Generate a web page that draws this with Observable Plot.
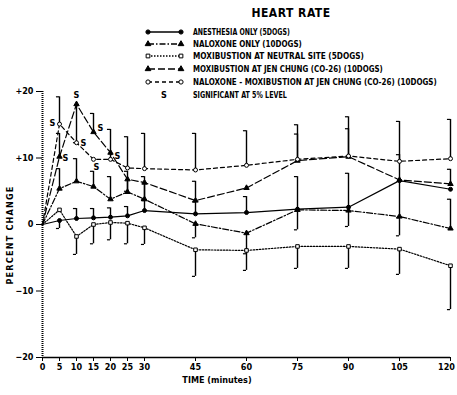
<!DOCTYPE html>
<html><head><meta charset="utf-8">
<script src="https://cdn.jsdelivr.net/npm/d3@7"></script>
<script src="https://cdn.jsdelivr.net/npm/@observablehq/plot@0.6"></script>
<style>
body{margin:0;background:#fff;}
#wrap{position:relative;width:457px;height:395px;overflow:hidden;font-family:"Liberation Sans Narrow","DejaVu Sans Condensed","Roboto",sans-serif;font-weight:bold;color:#000;}
#wrap svg{display:block;}
.ov{position:absolute;white-space:nowrap;font-weight:bold;}
</style></head><body><div id="wrap"></div>
<script>
// ---- data (percent change of heart rate) ----
const times = [0, 5, 10, 15, 20, 25, 30, 45, 60, 75, 90, 105, 120];
const xTickLabels = [0, 5, 10, 15, 20, 25, 30, 45, 60, 75, 90, 105, 120];
const yTickLabels = [-20, -10, 0, 10, 20];

const anesthesia = [0, 0.6, 0.9, 1.0, 1.1, 1.3, 2.1, 1.6, 1.8, 2.3, 2.6, 6.6, 5.3];
const naloxone   = [0, 5.4, 6.5, 5.7, 3.8, 4.9, 3.8, 0.1, -1.3, 2.2, 2.1, 1.2, -0.6];
const neutral    = [0, 2.2, -1.8, 0.0, 0.3, 0.2, -0.5, -3.8, -3.9, -3.3, -3.3, -3.7, -6.2];
const jenChung   = [0, 10.2, 18.1, 13.9, 10.8, 6.8, 6.3, 3.6, 5.5, 9.6, 10.2, 6.7, 6.1];
const naloxMox   = [0, 15.1, 12.3, 9.8, 9.8, 8.5, 8.4, 8.2, 8.9, 9.8, 10.3, 9.5, 9.9];

// error-bar tips (value at the end of each bar; null = none)
const anesthesiaEnd = [null, -0.6, 2.4, 2.4, 2.5, 2.7, 3.6, 3.4, 4.2, 7.2, 7.7, 1.0, null];
const naloxoneEnd   = [null, 8.4, 9.9, 8.0, 7.2, 8.0, 7.2, -2.0, -4.4, -0.8, -0.3, -1.7, 3.8];
const neutralEnd    = [null, null, -4.5, -2.9, -2.3, -2.9, -3.0, -7.8, -6.9, -6.6, -6.6, -7.5, -12.8];
const jenChungEnd   = [null, 13.7, 12.3, 16.7, null, 5.0, 3.8, 6.5, null, 13.6, 14.4, 10.5, 8.3];
const naloxMoxEnd   = [null, 19.2, null, null, 14.3, 13.2, 13.7, 13.7, 14.1, 15.0, 16.2, 15.5, 15.8];

const seriesNames = [
  "ANESTHESIA ONLY (5DOGS)",
  "NALOXONE ONLY (10DOGS)",
  "MOXIBUSTION AT NEUTRAL SITE (5DOGS)",
  "MOXIBUSTION AT JEN CHUNG (CO-26) (10DOGS)",
  "NALOXONE - MOXIBUSTION AT JEN CHUNG (CO-26) (10DOGS)"
];
const sigText = "SIGNIFICANT AT 5% LEVEL";
// significance marks: series index, time
const sigSeries = [4, 4, 4, 4, 3, 3, 3];
const sigTimes  = [5, 10, 15, 20, 5, 10, 15];

// ---- styles ----
const styles = [
  {dash: null,        symbol: "circle",   fill: "black"},
  {dash: "6,2,1.5,2", symbol: "triangle", fill: "black"},
  {dash: "1.5,1.5",   symbol: "square",   fill: "white"},
  {dash: "7,3",       symbol: "triangle", fill: "black"},
  {dash: "4,3",       symbol: "circle",   fill: "white"}
];
const sigOffsets = [[-7,-1],[7,0],[3,8],[7,-3],[6,1],[0,-9],[7,-4]];
const legendWidths = [97, 109, 171, 190, 244];

const allVals = [anesthesia, naloxone, neutral, jenChung, naloxMox];
const allEnds = [anesthesiaEnd, naloxoneEnd, neutralEnd, jenChungEnd, naloxMoxEnd];
const data = allVals.flatMap((vals, s) => times.map((t, i) => ({s, t, v: vals[i], end: allEnds[s][i]})));
const sigData = sigSeries.map((s, k) => {
  const i = times.indexOf(sigTimes[k]);
  return {t: sigTimes[k], v: allVals[s][i], dx: sigOffsets[k][0], dy: sigOffsets[k][1]};
});

const font = `"Liberation Sans Narrow","DejaVu Sans Condensed",sans-serif`;
const fmtY = d => d > 0 ? "+" + d : d < 0 ? "\u2212" + Math.abs(d) : "0";
const lastTick = xTickLabels[xTickLabels.length - 1];

const marks = [
  Plot.axisX({ticks: xTickLabels, tickSize: 4, tickPadding: 2, label: null, tickFormat: d => d === lastTick ? "" : d, fontWeight: "bold"}),
  Plot.text([lastTick], {x: d => d, frameAnchor: "bottom", dy: 12, dx: -4, text: d => String(d), fontWeight: "bold"}),
  Plot.axisY({ticks: yTickLabels, tickSize: 6, tickPadding: 3, label: null, tickFormat: fmtY, fontWeight: "bold"}),
  Plot.ruleY([-20], {strokeWidth: 1.6}),
  Plot.ruleX([0], {strokeWidth: 2, strokeDasharray: "1,1"})
];
styles.forEach((st, s) => {
  const d = data.filter(r => r.s === s);
  const bars = d.filter(r => r.end != null);
  marks.push(
    Plot.ruleX(bars, {x: "t", y1: "v", y2: "end", strokeWidth: 1.4}),
    Plot.ruleY(bars, {y: "end", x1: r => r.t - 0.9, x2: "t", strokeWidth: 1.2}),
    Plot.line(d, {x: "t", y: "v", stroke: "black", strokeWidth: 1.2, strokeDasharray: st.dash}),
    Plot.dot(d.filter(r => r.t > 0), {x: "t", y: "v", symbol: st.symbol, r: 2, fill: st.fill, stroke: "black", strokeWidth: 1})
  );
});
sigData.forEach(sd => marks.push(Plot.text([sd], {x: "t", y: "v", text: () => "S", dx: sd.dx, dy: sd.dy, fontSize: 9, fontWeight: "bold"})));

const chart = Plot.plot({
  width: 457, height: 395,
  marginTop: 91, marginBottom: 38, marginLeft: 42, marginRight: 7,
  x: {domain: [0, 120]},
  y: {domain: [-20, 20]},
  style: {fontFamily: font, fontSize: "9px", background: "white", color: "black", overflow: "visible"},
  marks
});
const wrap = document.getElementById("wrap");
wrap.appendChild(chart);

function ov(text, css) {
  const d = document.createElement("div");
  d.className = "ov";
  d.textContent = text;
  Object.assign(d.style, css);
  wrap.appendChild(d);
  return d;
}
ov("HEART RATE", {left: "241px", width: "100px", textAlign: "center", top: "6px", fontSize: "12px", letterSpacing: "0.5px"});
ov("TIME (minutes)", {left: "167px", width: "100px", textAlign: "center", top: "375px", fontSize: "9px"});
ov("PERCENT CHANGE", {left: "-45px", width: "110px", textAlign: "center", top: "230px", fontSize: "9px", transform: "rotate(-90deg)", letterSpacing: "1.2px"});

// legend
const legTop = [32, 44, 56, 69, 82];
const lg = d3.select(wrap).append("svg")
  .attr("width", 457).attr("height", 100)
  .style("position", "absolute").style("left", "0px").style("top", "0px");
function fitText(str, x, y, w) {
  const t = lg.append("text").attr("x", 0).attr("y", 0).text(str)
    .attr("font-family", font).attr("font-weight", "bold").attr("font-size", 9);
  const natural = t.node().getComputedTextLength();
  const k = natural > 0 ? w / natural : 1;
  t.attr("transform", `translate(${x},${y}) scale(${k},1)`);
}
styles.forEach((st, i) => {
  const y = legTop[i];
  lg.append("line").attr("x1", 148).attr("x2", 181).attr("y1", y).attr("y2", y)
    .attr("stroke", "black").attr("stroke-width", 1.3).attr("stroke-dasharray", st.dash);
  [148, 181].forEach(x => {
    lg.append("path").attr("transform", `translate(${x},${y})`)
      .attr("d", d3.symbol(st.symbol === "circle" ? d3.symbolCircle : st.symbol === "square" ? d3.symbolSquare : d3.symbolTriangle, 14)())
      .attr("fill", st.fill).attr("stroke", "black");
  });
  fitText(seriesNames[i], 193, y + 3, legendWidths[i]);
});
lg.append("text").attr("x", 161).attr("y", 98).text("S").attr("font-family", font).attr("font-weight", "bold").attr("font-size", 9);
fitText(sigText, 193, 98, 94);
</script></body></html>
